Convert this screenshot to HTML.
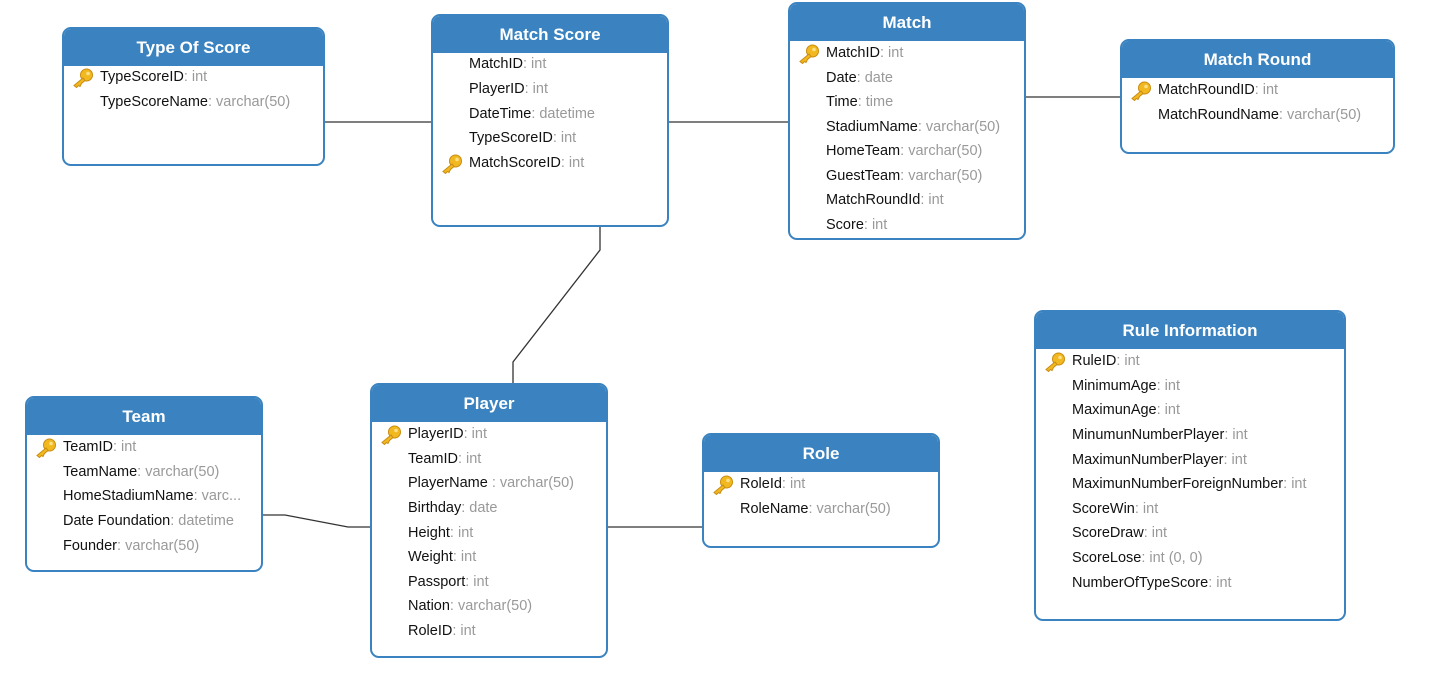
<!DOCTYPE html>
<html><head><style>
body{margin:0;width:1445px;height:690px;background:#fff;position:relative;overflow:hidden;font-family:"Liberation Sans",sans-serif;}
.t{position:absolute;border:2px solid #3a83c0;border-radius:9px;background:#fff;box-sizing:border-box;overflow:hidden}
.h{background:#3a83c0;color:#fff;font-weight:bold;font-size:17px;text-align:center;height:37px;line-height:37px}
.r{position:absolute;left:36px;font-size:14.5px;color:#111;white-space:nowrap;line-height:18px}
.r span{color:#999}
.k{position:absolute;left:8px;width:22px;height:20px}
svg.l{position:absolute;left:0;top:0}
</style></head><body>
<svg class="l" width="1445" height="690"><g stroke="#333" stroke-width="1.3" fill="none">
<path d="M324 122H431"/><path d="M668 122H788"/><path d="M1025 97H1120"/>
<path d="M600 226V250L513 362V383"/><path d="M262 515H285L348 527H370"/><path d="M607 527H702"/>
</g></svg>
<svg width="0" height="0" style="position:absolute"><defs><symbol id="key" viewBox="0 0 22 20"><circle cx="14.5" cy="7" r="6" fill="#f2b820" stroke="#c98c10" stroke-width="1"/><path d="M11 10L2 17.5L4.5 19.5L6.5 17.5L8 18.5L9.5 15.5L13 12.5Z" fill="#f2b820" stroke="#c98c10" stroke-width="1"/><circle cx="16" cy="5.5" r="1.8" fill="#fbe08a"/></symbol></defs></svg>

<div class="t" style="left:62px;top:27px;width:263px;height:139px"><div class="h">Type Of Score</div>
<svg class="k" style="top:39px"><use href="#key"/></svg>
<div class="r" style="top:39px">TypeScoreID<span>: int</span></div>
<div class="r" style="top:64px">TypeScoreName<span>: varchar(50)</span></div></div>

<div class="t" style="left:431px;top:14px;width:238px;height:213px"><div class="h">Match Score</div>
<div class="r" style="top:39px">MatchID<span>: int</span></div>
<div class="r" style="top:64px">PlayerID<span>: int</span></div>
<div class="r" style="top:89px">DateTime<span>: datetime</span></div>
<div class="r" style="top:113px">TypeScoreID<span>: int</span></div>
<svg class="k" style="top:138px"><use href="#key"/></svg>
<div class="r" style="top:138px">MatchScoreID<span>: int</span></div></div>

<div class="t" style="left:788px;top:2px;width:238px;height:238px"><div class="h">Match</div>
<svg class="k" style="top:40px"><use href="#key"/></svg>
<div class="r" style="top:40px">MatchID<span>: int</span></div>
<div class="r" style="top:65px">Date<span>: date</span></div>
<div class="r" style="top:89px">Time<span>: time</span></div>
<div class="r" style="top:114px">StadiumName<span>: varchar(50)</span></div>
<div class="r" style="top:138px">HomeTeam<span>: varchar(50)</span></div>
<div class="r" style="top:163px">GuestTeam<span>: varchar(50)</span></div>
<div class="r" style="top:187px">MatchRoundId<span>: int</span></div>
<div class="r" style="top:212px">Score<span>: int</span></div></div>

<div class="t" style="left:1120px;top:39px;width:275px;height:115px"><div class="h">Match Round</div>
<svg class="k" style="top:40px"><use href="#key"/></svg>
<div class="r" style="top:40px">MatchRoundID<span>: int</span></div>
<div class="r" style="top:65px">MatchRoundName<span>: varchar(50)</span></div></div>

<div class="t" style="left:1034px;top:310px;width:312px;height:311px"><div class="h">Rule Information</div>
<svg class="k" style="top:40px"><use href="#key"/></svg>
<div class="r" style="top:40px">RuleID<span>: int</span></div>
<div class="r" style="top:65px">MinimumAge<span>: int</span></div>
<div class="r" style="top:89px">MaximunAge<span>: int</span></div>
<div class="r" style="top:114px">MinumunNumberPlayer<span>: int</span></div>
<div class="r" style="top:139px">MaximunNumberPlayer<span>: int</span></div>
<div class="r" style="top:163px">MaximunNumberForeignNumber<span>: int</span></div>
<div class="r" style="top:188px">ScoreWin<span>: int</span></div>
<div class="r" style="top:212px">ScoreDraw<span>: int</span></div>
<div class="r" style="top:237px">ScoreLose<span>: int (0, 0)</span></div>
<div class="r" style="top:262px">NumberOfTypeScore<span>: int</span></div></div>

<div class="t" style="left:25px;top:396px;width:238px;height:176px"><div class="h">Team</div>
<svg class="k" style="top:40px"><use href="#key"/></svg>
<div class="r" style="top:40px">TeamID<span>: int</span></div>
<div class="r" style="top:65px">TeamName<span>: varchar(50)</span></div>
<div class="r" style="top:89px">HomeStadiumName<span>: varc...</span></div>
<div class="r" style="top:114px">Date Foundation<span>: datetime</span></div>
<div class="r" style="top:139px">Founder<span>: varchar(50)</span></div></div>

<div class="t" style="left:370px;top:383px;width:238px;height:275px"><div class="h">Player</div>
<svg class="k" style="top:40px"><use href="#key"/></svg>
<div class="r" style="top:40px">PlayerID<span>: int</span></div>
<div class="r" style="top:65px">TeamID<span>: int</span></div>
<div class="r" style="top:89px">PlayerName <span>: varchar(50)</span></div>
<div class="r" style="top:114px">Birthday<span>: date</span></div>
<div class="r" style="top:139px">Height<span>: int</span></div>
<div class="r" style="top:163px">Weight<span>: int</span></div>
<div class="r" style="top:188px">Passport<span>: int</span></div>
<div class="r" style="top:212px">Nation<span>: varchar(50)</span></div>
<div class="r" style="top:237px">RoleID<span>: int</span></div></div>

<div class="t" style="left:702px;top:433px;width:238px;height:115px"><div class="h">Role</div>
<svg class="k" style="top:40px"><use href="#key"/></svg>
<div class="r" style="top:40px">RoleId<span>: int</span></div>
<div class="r" style="top:65px">RoleName<span>: varchar(50)</span></div></div>
</body></html>
